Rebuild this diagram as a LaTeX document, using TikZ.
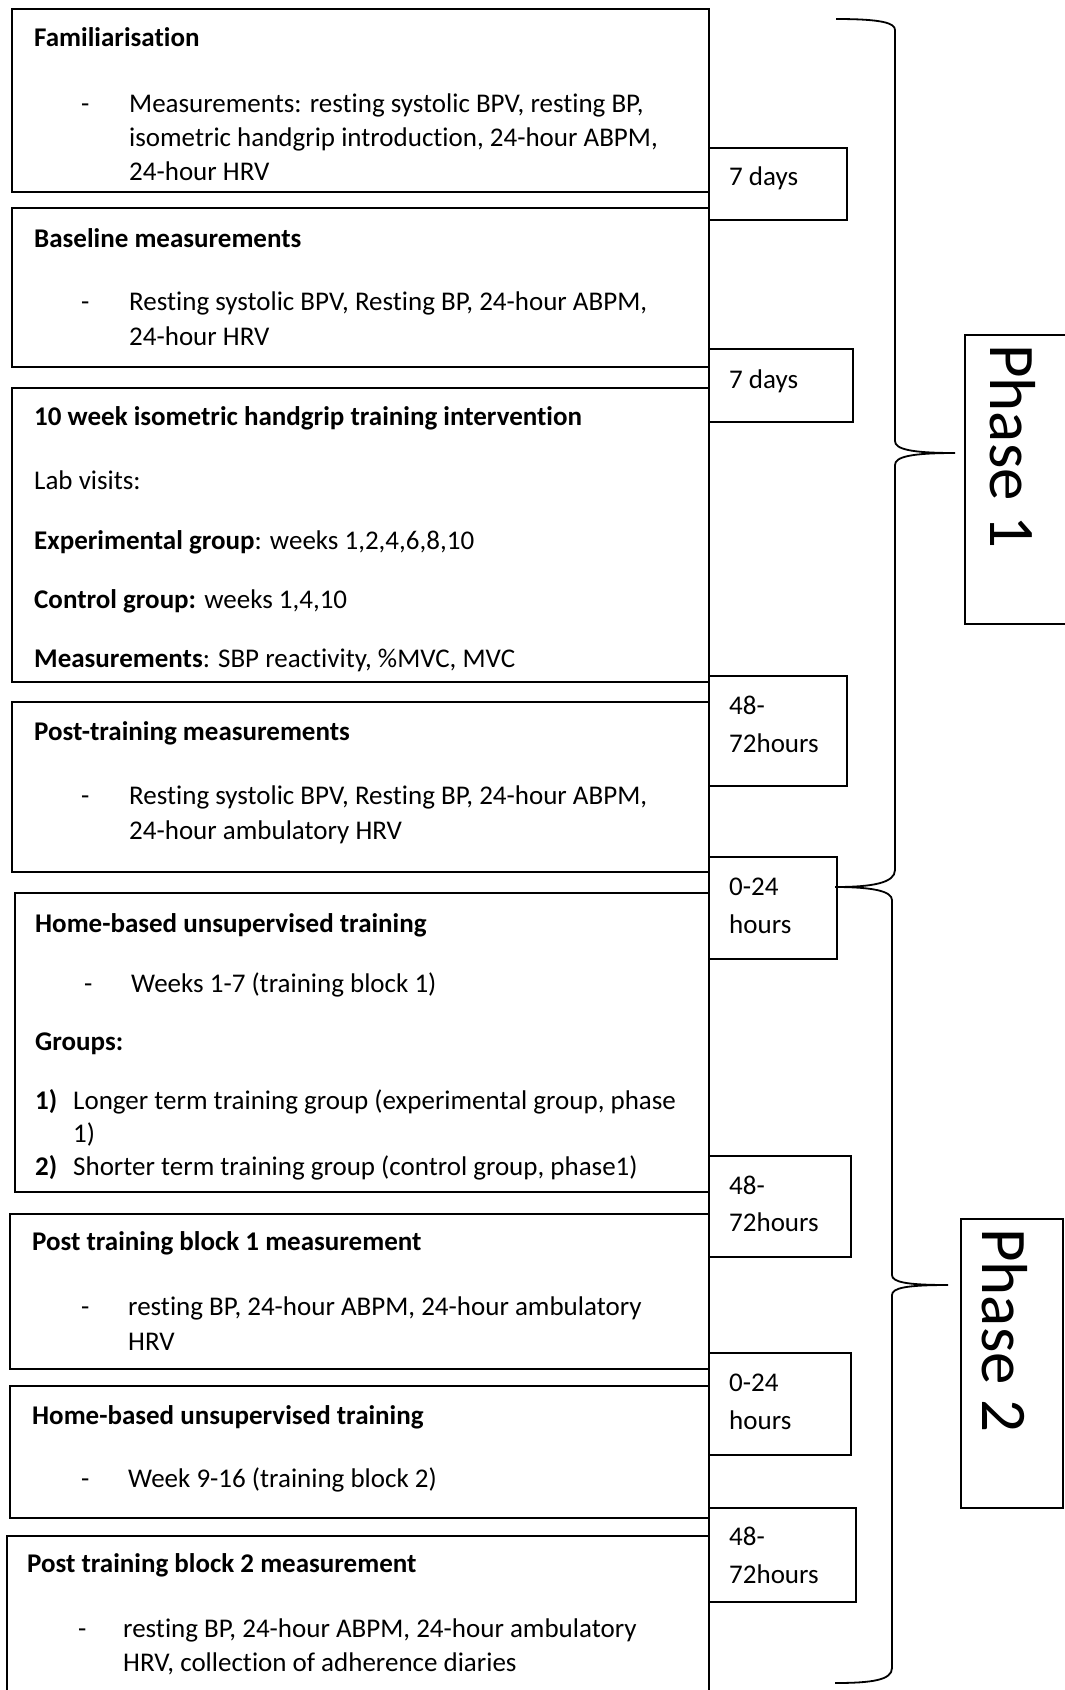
\documentclass[tikz,border=0pt]{standalone}
\usepackage{fontspec}
\setmainfont{Carlito}[Ligatures=CommonOff]
\begin{document}
\begin{tikzpicture}[x=1pt,y=-1pt,
  box/.style={draw, line width=1.6pt, inner sep=0pt, outer sep=0pt, anchor=north west},
  txt/.style={anchor=base west, inner sep=0pt, yshift=-2pt, font=\fontsize{27}{32}\selectfont},
  btxt/.style={txt, font=\fontsize{27}{32}\selectfont\bfseries},
  phasetxt/.style={anchor=base west, inner sep=0pt, rotate=-90, font=\fontsize{65}{70}\selectfont},
  bracestyle/.style={line width=1.8pt}]
\useasboundingbox (0,0) rectangle (1065,1690);
\clip (0,0) rectangle (1065,1690);
% main boxes
\node[box, minimum width=697pt, minimum height=183pt] (b1) at (12,9) {};
\node[box, minimum width=697pt, minimum height=159pt] (b2) at (12,208) {};
\node[box, minimum width=697pt, minimum height=294pt] (b3) at (12,388) {};
\node[box, minimum width=697pt, minimum height=170pt] (b4) at (12,702) {};
\node[box, minimum width=694pt, minimum height=299pt] (b5) at (15,893) {};
\node[box, minimum width=699pt, minimum height=155pt] (b6) at (10,1214) {};
\node[box, minimum width=699pt, minimum height=132pt] (b7) at (10,1386) {};
\node[box, minimum width=702pt, minimum height=170pt] (b8) at (7,1536) {};
% interval boxes
\node[box, minimum width=138pt, minimum height=72pt] (d1) at (709,148) {};
\node[box, minimum width=144pt, minimum height=73pt] (d2) at (709,349) {};
\node[box, minimum width=138pt, minimum height=110pt] (d3) at (709,676) {};
\node[box, minimum width=128pt, minimum height=102pt] (d4) at (709,857) {};
\node[box, minimum width=142pt, minimum height=101pt] (d5) at (709,1156) {};
\node[box, minimum width=142pt, minimum height=102pt] (d6) at (709,1353) {};
\node[box, minimum width=147pt, minimum height=94pt] (d7) at (709,1508) {};
% phase boxes
\node[box, minimum width=110pt, minimum height=289pt] (p1) at (965,335) {};
\node[box, minimum width=102pt, minimum height=289pt] (p2) at (961,1219) {};
\node[phasetxt] (p1t) at (990,344) {Phase 1};
\node[phasetxt] (p2t) at (982,1228) {Phase 2};
% braces
\draw[bracestyle] (836,19) .. controls (882,19) and (895,23) .. (895,30) -- (895,441)
  .. controls (895,449) and (910,453) .. (955,453)
  .. controls (910,453) and (895,457) .. (895,465) -- (895,870)
  .. controls (895,883) and (872,887) .. (835,887);
\draw[bracestyle] (835,887) .. controls (872,887) and (892,891) .. (892,900) -- (892,1275)
  .. controls (892,1282) and (906,1285) .. (948,1285)
  .. controls (906,1285) and (892,1288) .. (892,1295) -- (892,1668)
  .. controls (892,1680) and (872,1683) .. (835,1683);
% box 1
\node[btxt] (t1a) at (34,44) {Familiarisation};
\node[txt] (t1b) at (81,110) {-};
\node[txt] (t1c) at (129,110) {Measurements: resting systolic BPV, resting BP,};
\node[txt] (t1d) at (129,144) {isometric handgrip introduction, 24-hour ABPM,};
\node[txt] (t1e) at (129,178) {24-hour HRV};
% box 2
\node[btxt] (t2a) at (34,245) {Baseline measurements};
\node[txt] (t2b) at (81,308) {-};
\node[txt] (t2c) at (129,308) {Resting systolic BPV, Resting BP, 24-hour ABPM,};
\node[txt] (t2d) at (129,343) {24-hour HRV};
% box 3
\node[btxt] (t3a) at (34,423) {10 week isometric handgrip training intervention};
\node[txt] (t3b) at (34,487) {Lab visits:};
\node[txt] (t3c) at (34,547) {\textbf{Experimental group}: weeks 1,2,4,6,8,10};
\node[txt] (t3d) at (34,606) {\textbf{Control group:} weeks 1,4,10};
\node[txt] (t3e) at (34,665) {\textbf{Measurements}: SBP reactivity, \%MVC, MVC};
% box 4
\node[btxt] (t4a) at (34,738) {Post-training measurements};
\node[txt] (t4b) at (81,802) {-};
\node[txt] (t4c) at (129,802) {Resting systolic BPV, Resting BP, 24-hour ABPM,};
\node[txt] (t4d) at (129,837) {24-hour ambulatory HRV};
% box 5
\node[btxt] (t5a) at (35,930) {Home-based unsupervised training};
\node[txt] (t5b) at (84,990) {-};
\node[txt] (t5c) at (131,990) {Weeks 1-7 (training block 1)};
\node[btxt] (t5d) at (35,1048) {Groups:};
\node[btxt] (t5e) at (35,1107) {1)};
\node[txt] (t5f) at (73,1107) {Longer term training group (experimental group, phase};
\node[txt] (t5g) at (73,1140) {1)};
\node[btxt] (t5h) at (35,1173) {2)};
\node[txt] (t5i) at (73,1173) {Shorter term training group (control group, phase1)};
% box 6
\node[btxt] (t6a) at (32,1248) {Post training block 1 measurement};
\node[txt] (t6b) at (81,1313) {-};
\node[txt] (t6c) at (128,1313) {resting BP, 24-hour ABPM, 24-hour ambulatory};
\node[txt] (t6d) at (128,1348) {HRV};
% box 7
\node[btxt] (t7a) at (32,1422) {Home-based unsupervised training};
\node[txt] (t7b) at (81,1485) {-};
\node[txt] (t7c) at (128,1485) {Week 9-16 (training block 2)};
% box 8
\node[btxt] (t8a) at (27,1570) {Post training block 2 measurement};
\node[txt] (t8b) at (78,1635) {-};
\node[txt] (t8c) at (123,1635) {resting BP, 24-hour ABPM, 24-hour ambulatory};
\node[txt] (t8d) at (123,1669) {HRV, collection of adherence diaries};
% interval texts
\node[txt] (s1) at (729,183) {7 days};
\node[txt] (s2) at (729,386) {7 days};
\node[txt] (s3a) at (729,712) {48-};
\node[txt] (s3b) at (729,750) {72hours};
\node[txt] (s4a) at (729,893) {0-24};
\node[txt] (s4b) at (729,931) {hours};
\node[txt] (s5a) at (729,1192) {48-};
\node[txt] (s5b) at (729,1229) {72hours};
\node[txt] (s6a) at (729,1389) {0-24};
\node[txt] (s6b) at (729,1427) {hours};
\node[txt] (s7a) at (729,1543) {48-};
\node[txt] (s7b) at (729,1581) {72hours};
\end{tikzpicture}
\end{document}
